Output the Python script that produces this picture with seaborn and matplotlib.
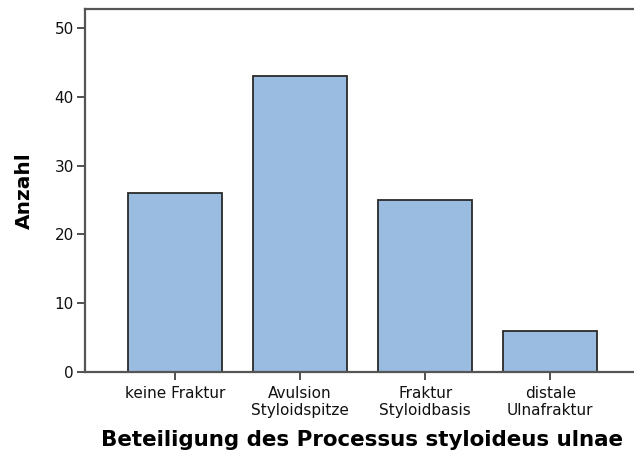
import matplotlib
matplotlib.use("Agg")
import matplotlib.pyplot as plt
import seaborn as sns
import pandas as pd

categories = ["keine Fraktur", "Avulsion\nStyloidspitze", "Fraktur\nStyloidbasis", "distale\nUlnafraktur"]
counts = [26, 43, 25, 6]
yticks = [0, 10, 20, 30, 40, 50]

sns.set_style("white")
plt.rcParams['font.family'] = ['DejaVu Sans']

df = pd.DataFrame({"cat": categories, "n": counts})

fig = plt.figure(figsize=(6.34, 4.61), dpi=100)
ax = fig.add_axes([85/634, 89/461, 1 - 85/634, (372-9)/461])
sns.barplot(data=df, x="cat", y="n", ax=ax, color="#99BCE0", saturation=1,
            width=0.75, edgecolor="#2a2a2a", linewidth=1.3)
ax.set_xlim(-0.72, 3.67)
ax.set_ylim(0, 52.76)
ax.set_yticks(yticks)
ax.spines["right"].set_visible(False)
for s in ["left", "bottom", "top"]:
    ax.spines[s].set_color("#555555")
    ax.spines[s].set_linewidth(1.6)
ax.tick_params(axis="both", which="both", direction="out", length=6, width=1.2,
               color="#333333", pad=2, left=True, bottom=True, labelcolor="#111111")
ax.tick_params(axis="y", labelsize=11)
ax.tick_params(axis="x", labelsize=11, pad=4)
for lab in ax.get_xticklabels():
    lab.set_linespacing(1.2)
ax.set_ylabel("Anzahl", fontsize=14.5, fontweight="bold", color="black", va="center")
ax.yaxis.set_label_coords(-0.11, 0.50)
ax.set_xlabel("Beteiligung des Processus styloideus ulnae", fontsize=15.4,
              fontweight="bold", color="black", va="center")
ax.xaxis.set_label_coords(0.505, -0.187)
fig.savefig("out.png", dpi=100)
